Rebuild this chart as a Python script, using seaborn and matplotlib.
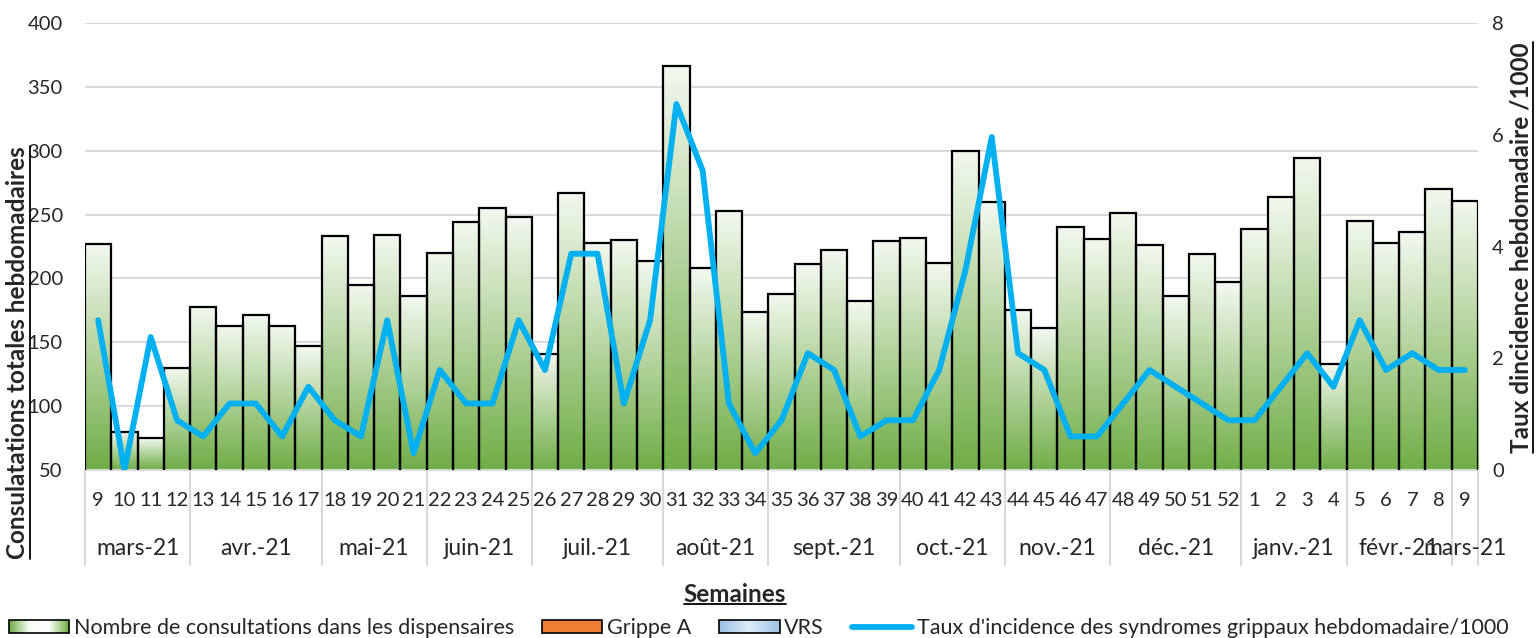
import matplotlib
matplotlib.use("Agg")
import matplotlib.pyplot as plt
import seaborn as sns
import pandas as pd
import numpy as np
from matplotlib.colors import LinearSegmentedColormap
from matplotlib.legend_handler import HandlerBase
from matplotlib.patches import Rectangle
from matplotlib.lines import Line2D

# Week numbers (March 2021 -> March 2022)
weeks = ['9', '10', '11', '12', '13', '14', '15', '16', '17', '18', '19', '20', '21',
         '22', '23', '24', '25', '26', '27', '28', '29', '30', '31', '32', '33', '34',
         '35', '36', '37', '38', '39', '40', '41', '42', '43', '44', '45', '46', '47',
         '48', '49', '50', '51', '52', '1', '2', '3', '4', '5', '6', '7', '8', '9']
months = ['mars-21', 'avr.-21', 'mai-21', 'juin-21', 'juil.-21', 'août-21', 'sept.-21',
          'oct.-21', 'nov.-21', 'déc.-21', 'janv.-21', 'févr.-21', 'mars-21']
month_sizes = [4, 5, 4, 4, 5, 4, 5, 4, 4, 5, 4, 4, 1]

consultations = [227, 80, 75, 130, 178, 163, 171, 163, 147, 233, 195, 234, 186, 220, 244, 255, 248,
                 141, 267, 228, 230, 214, 366, 208, 253, 174, 188, 211, 222, 182, 229, 232, 212, 300, 260, 175,
                 161, 240, 231, 251, 226, 186, 219, 197,
                 239, 264, 294, 133, 245, 228, 236, 270, 261]
incidence = [2.68, 0.0, 2.38, 0.89, 0.60, 1.19, 1.19, 0.60, 1.49, 0.89, 0.60, 2.68, 0.30, 1.79, 1.19, 1.19, 2.68,
             1.79, 3.87, 3.87, 1.19, 2.68, 6.55, 5.36, 1.19, 0.30, 0.89, 2.09, 1.79, 0.60, 0.89, 0.89, 1.79, 3.58, 5.96, 2.09,
             1.79, 0.60, 0.60, 1.19, 1.79, 1.49, 1.19, 0.89,
             0.89, 1.49, 2.09, 1.49, 2.68, 1.79, 2.09, 1.79, 1.79]

df = pd.DataFrame({'idx': range(len(weeks)), 'week': weeks,
                   'consultations': consultations, 'incidence': incidence})

sns.set_style("white")
plt.rcParams['font.family'] = ['Lato', 'DejaVu Sans']

GREEN_TOP = '#F3F8EF'
GREEN_BOT = '#70AD47'
LINE_COL = '#00B0F0'
GRID_COL = '#D9D9D9'

fig = plt.figure(figsize=(15.39, 6.38), dpi=100)
ax = fig.add_axes([85 / 1539, 168 / 638, 1393 / 1539, 447 / 638])

# bars
sns.barplot(data=df, x='idx', y='consultations', width=1.0, ax=ax,
            color=GREEN_BOT, saturation=1)

# per-bar vertical gradient (light on top, green at bottom)
cmap = LinearSegmentedColormap.from_list('bar_grad', [GREEN_TOP, GREEN_BOT])
grad = np.linspace(0, 1, 256).reshape(-1, 1)
for p in ax.patches:
    x0, w, h = p.get_x(), p.get_width(), p.get_height()
    ax.imshow(grad, cmap=cmap, aspect='auto', extent=[x0, x0 + w, 50, h],
              origin='upper', zorder=2, interpolation='bilinear')
    p.set_facecolor('none')
    p.set_edgecolor('black')
    p.set_linewidth(1.6)
    p.set_zorder(3)
ax.set_ylim(50, 400)
ax.set_xlim(-0.5, len(weeks) - 0.5)

ax.set_yticks(range(50, 401, 50))
ax.yaxis.grid(True, color=GRID_COL, lw=1.5)
ax.set_axisbelow(True)
ax.tick_params(axis='y', length=0, labelsize=14.5, pad=16)
ax.set_xticks([])
ax.set_xlabel('')
ax.set_ylabel('')
for s in ['top', 'left', 'right']:
    ax.spines[s].set_visible(False)
ax.spines['bottom'].set_color(GRID_COL)
ax.spines['bottom'].set_linewidth(1.5)

# incidence line on secondary axis
ax2 = ax.twinx()
sns.lineplot(data=df, x='idx', y='incidence', ax=ax2, color=LINE_COL, lw=4.2,
             solid_joinstyle='round', solid_capstyle='round')
ax2.set_ylim(0, 8)
ax2.set_yticks([0, 2, 4, 6, 8])
ax2.tick_params(axis='y', length=0, labelsize=14.5, pad=10)
ax2.set_ylabel('')
ax2.set_xlabel('')
for s in ['top', 'left', 'right', 'bottom']:
    ax2.spines[s].set_visible(False)
ax2.set_xlim(-0.5, len(weeks) - 0.5)

# two-level category axis
trans = ax.get_xaxis_transform()
for i, wk in enumerate(weeks):
    ax.text(i, -0.068, wk, transform=trans, ha='center', va='center', fontsize=14.5)
bounds = np.concatenate([[0], np.cumsum(month_sizes)])
for m, a, b in zip(months, bounds[:-1], bounds[1:]):
    ax.text((a + b - 1) / 2, -0.175, m, transform=trans, ha='center', va='center', fontsize=16.5)
for b in bounds:
    ax.add_line(Line2D([b - 0.5, b - 0.5], [0, -0.213], transform=trans, color=GRID_COL,
                       lw=1.5, clip_on=False))

# titles
t_left = fig.text(0.0115, 0.4475, 'Consulatations totales hebdomadaires', rotation=90,
                  ha='center', va='center', fontsize=17.5, fontweight='bold')
t_right = fig.text(0.9883, 0.612, 'Taux dincidence hebdomadaire /1000', rotation=90,
                   ha='center', va='center', fontsize=17.5, fontweight='bold')
t_x = fig.text(0.4776, 1 - 595 / 638, 'Semaines', ha='center', va='center',
               fontsize=17.5, fontweight='bold')


class GradHandler(HandlerBase):
    def __init__(self, colors):
        super().__init__()
        self.cmap = LinearSegmentedColormap.from_list('h', colors)

    def create_artists(self, legend, orig_handle, xdescent, ydescent, width, height, fontsize, trans):
        arts = []
        n = 40
        for i in range(n):
            arts.append(Rectangle((-xdescent + width * i / n, -ydescent), width / n * 1.05, height,
                                  facecolor=self.cmap(i / (n - 1)), edgecolor='none', transform=trans))
        arts.append(Rectangle((-xdescent, -ydescent), width, height, facecolor='none',
                              edgecolor='black', lw=1.2, transform=trans))
        return arts


h_cons = Rectangle((0, 0), 1, 1)
h_grip = Rectangle((0, 0), 1, 1, facecolor='#ED7D31', edgecolor='black', lw=1.2)
h_vrs = Rectangle((0, 0), 1, 1)
h_line = Line2D([], [], color=LINE_COL, lw=4.2)
fig.legend([h_cons, h_grip, h_vrs, h_line],
           ['Nombre de consultations dans les dispensaires', 'Grippe A', 'VRS',
            "Taux d'incidence des syndromes grippaux hebdomadaire/1000"],
           handler_map={h_cons: GradHandler([GREEN_BOT, '#F5FAF2', '#FFFFFF', GREEN_BOT]),
                        h_vrs: GradHandler(['#9DC3E6', '#DEEBF7', '#9DC3E6'])},
           loc='center', bbox_to_anchor=(0.493, 1 - 628 / 638), ncol=4, frameon=False,
           fontsize=15.5, handlelength=2.8, handleheight=0.6, handletextpad=0.22,
           columnspacing=1.3, borderpad=0)

# underlines
fig.canvas.draw()
renderer = fig.canvas.get_renderer()
inv = fig.transFigure.inverted()
for t in (t_left, t_right):
    bb = t.get_window_extent(renderer).transformed(inv)
    fig.add_artist(Line2D([bb.x1 + 0.0005, bb.x1 + 0.0005], [bb.y0, bb.y1], color='black', lw=1.3))
bb = t_x.get_window_extent(renderer).transformed(inv)
fig.add_artist(Line2D([bb.x0, bb.x1], [bb.y0 + 0.004, bb.y0 + 0.004], color='black', lw=1.3))

fig.savefig('out.png', dpi=100)
